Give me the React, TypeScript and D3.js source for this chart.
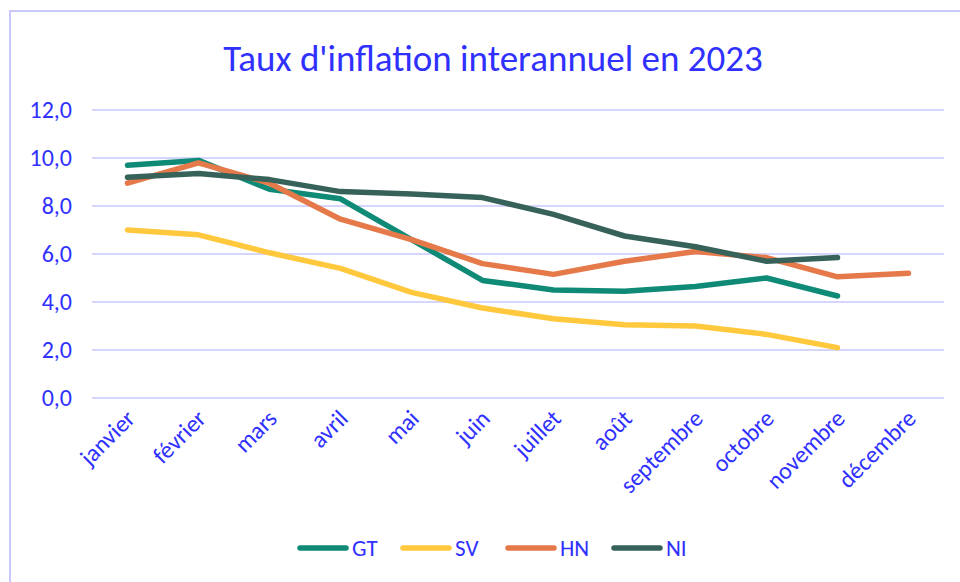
import { useRef, useEffect } from 'react'
import * as d3 from 'd3'

const months = ['janvier', 'février', 'mars', 'avril', 'mai', 'juin', 'juillet', 'août', 'septembre', 'octobre', 'novembre', 'décembre']
const yTicks = [0, 2, 4, 6, 8, 10, 12]

const gt = [9.7, 9.9, 8.7, 8.3, 6.6, 4.9, 4.5, 4.45, 4.65, 5.0, 4.25, null]
const sv = [7.0, 6.8, 6.05, 5.4, 4.4, 3.75, 3.3, 3.05, 3.0, 2.65, 2.1, null]
const hn = [8.95, 9.8, 8.95, 7.45, 6.6, 5.6, 5.15, 5.7, 6.1, 5.85, 5.05, 5.2]
const ni = [9.2, 9.35, 9.1, 8.6, 8.5, 8.35, 7.65, 6.75, 6.3, 5.7, 5.85, null]

const seriesNames = ['GT', 'SV', 'HN', 'NI']
const seriesValues = [gt, sv, hn, ni]
const seriesColors = ['#0F8A77', '#FFC83D', '#E5794A', '#36625A']

const W = 960
const H = 582
const TEXT = '#3030FF'
const GRID = '#C8C8FA'
const FONT = 'Carlito, Lato, sans-serif'

export default function App() {
  const svgRef = useRef<SVGSVGElement>(null)

  useEffect(() => {
    if (!svgRef.current) return
    const svg = d3.select(svgRef.current)
    svg.selectAll('*').remove()

    svg.append('rect').attr('width', W).attr('height', H).attr('fill', '#fff')

    // outer chart border
    svg
      .append('rect')
      .attr('x', 10)
      .attr('y', 11)
      .attr('width', W + 20)
      .attr('height', H + 20)
      .attr('fill', 'none')
      .attr('stroke', GRID)
      .attr('stroke-width', 2)

    svg
      .append('text')
      .attr('x', 493)
      .attr('y', 71)
      .attr('text-anchor', 'middle')
      .attr('fill', TEXT)
      .attr('font-family', FONT)
      .attr('font-size', 37)
      .text("Taux d'inflation interannuel en 2023")

    const x = d3.scaleBand().domain(months).range([92, 944])
    const y = d3.scaleLinear().domain([0, 12]).range([398, 110])

    // grid
    svg
      .append('g')
      .selectAll('line')
      .data(yTicks)
      .join('line')
      .attr('x1', 92)
      .attr('x2', 944)
      .attr('y1', (d) => y(d))
      .attr('y2', (d) => y(d))
      .attr('stroke', GRID)
      .attr('stroke-width', 1.5)

    // Y labels
    svg
      .append('g')
      .selectAll('text')
      .data(yTicks)
      .join('text')
      .attr('x', 72)
      .attr('y', (d) => y(d) + 8)
      .attr('text-anchor', 'end')
      .attr('fill', TEXT)
      .attr('font-family', FONT)
      .attr('font-size', 24)
      .text((d) => d.toFixed(1).replace('.', ','))

    // X labels
    svg
      .append('g')
      .selectAll('text')
      .data(months)
      .join('text')
      .attr('transform', (d) => `translate(${x(d)! + x.bandwidth() / 2 + 9},${420}) rotate(-45)`)
      .attr('text-anchor', 'end')
      .attr('fill', TEXT)
      .attr('font-family', FONT)
      .attr('font-size', 24)
      .text((d) => d)

    // Lines
    const line = d3
      .line<number | null>()
      .defined((d) => d != null)
      .x((_, i) => x(months[i])! + x.bandwidth() / 2)
      .y((d) => y(d as number))

    svg
      .append('g')
      .selectAll('path')
      .data(seriesValues)
      .join('path')
      .attr('d', (d) => line(d))
      .attr('fill', 'none')
      .attr('stroke', (_, i) => seriesColors[i])
      .attr('stroke-width', 5.5)
      .attr('stroke-linecap', 'round')
      .attr('stroke-linejoin', 'round')

    // Legend
    const legendX = [298, 401, 506, 612]
    const lg = svg
      .append('g')
      .selectAll('g')
      .data(seriesNames)
      .join('g')
      .attr('transform', (_, i) => `translate(${legendX[i]},548)`)
    lg.append('line')
      .attr('x1', 2)
      .attr('x2', 48)
      .attr('stroke', (_, i) => seriesColors[i])
      .attr('stroke-width', 5.5)
      .attr('stroke-linecap', 'round')
    lg.append('text')
      .attr('x', 54)
      .attr('y', 8)
      .attr('fill', TEXT)
      .attr('font-family', FONT)
      .attr('font-size', 23)
      .text((d) => d)
  }, [])

  return <svg ref={svgRef} width={W} height={H} style={{ position: 'absolute', left: 0, top: 0 }} />
}
